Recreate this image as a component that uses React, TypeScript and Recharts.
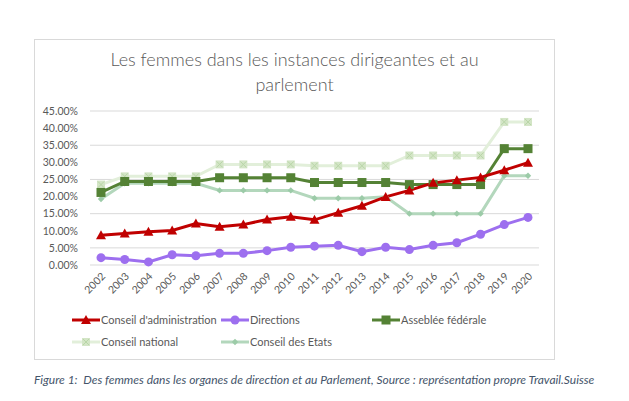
import React from 'react';
import { LineChart, Line, XAxis, YAxis, CartesianGrid } from 'recharts';

const years = ['2002','2003','2004','2005','2006','2007','2008','2009','2010','2011','2012','2013','2014','2015','2016','2017','2018','2019','2020'];
const conseilAdmin = [8.7, 9.2, 9.75, 10.1, 12.1, 11.2, 11.8, 13.3, 14.1, 13.2, 15.3, 17.3, 19.9, 21.8, 24.0, 24.8, 25.6, 27.7, 29.9];
const directions = [2.15, 1.6, 0.9, 3.0, 2.7, 3.4, 3.4, 4.2, 5.2, 5.5, 5.75, 3.9, 5.2, 4.5, 5.75, 6.5, 9.0, 11.8, 13.9];
const assemblee = [21.2, 24.4, 24.4, 24.4, 24.4, 25.5, 25.5, 25.5, 25.5, 24.1, 24.1, 24.1, 24.1, 23.5, 23.5, 23.5, 23.5, 34.0, 34.0];
const conseilNational = [23.5, 25.9, 25.9, 25.9, 25.9, 29.4, 29.4, 29.4, 29.4, 29.0, 29.0, 29.0, 29.0, 32.0, 32.0, 32.0, 32.0, 41.8, 41.8];
const conseilEtats = [19.3, 23.9, 23.9, 23.9, 23.9, 21.8, 21.8, 21.8, 21.8, 19.5, 19.5, 19.5, 19.9, 15.0, 15.0, 15.0, 15.0, 26.1, 26.1];
const yTicks = [0, 5, 10, 15, 20, 25, 30, 35, 40, 45];

const data = years.map((y, i) => ({
  year: y,
  ca: conseilAdmin[i],
  dir: directions[i],
  af: assemblee[i],
  cn: conseilNational[i],
  ce: conseilEtats[i],
}));

const C_RED = '#C00000';
const C_PURPLE = '#9D6FEF';
const C_AF = '#548235';
const C_CN = '#E2EFDA';
const C_CN_M = '#D3E5C6';
const C_CE = '#B3D7BC';
const C_CE_M = '#9CCBA8';
const TEXT = '#595959';
const FONT = 'Lato, "Open Sans", sans-serif';

const Triangle = ({ cx, cy, color, s = 5 }: any) => (
  <polygon points={`${cx},${cy - s} ${cx + s},${cy + s * 0.8} ${cx - s},${cy + s * 0.8}`} fill={color} />
);
const Circle = ({ cx, cy, color, r = 4.5 }: any) => <circle cx={cx} cy={cy} r={r} fill={color} />;
const Square = ({ cx, cy, color, s = 4.5 }: any) => <rect x={cx - s} y={cy - s} width={s * 2} height={s * 2} fill={color} />;
const XSquare = ({ cx, cy, s = 4 }: any) => (
  <g>
    <rect x={cx - s} y={cy - s} width={s * 2} height={s * 2} fill={C_CN_M} />
    <line x1={cx - s + 1} y1={cy - s + 1} x2={cx + s - 1} y2={cy + s - 1} stroke="#B9D6A8" strokeWidth={1} />
    <line x1={cx + s - 1} y1={cy - s + 1} x2={cx - s + 1} y2={cy + s - 1} stroke="#B9D6A8" strokeWidth={1} />
  </g>
);
const Diamond = ({ cx, cy, color, s = 3.2 }: any) => (
  <polygon points={`${cx},${cy - s} ${cx + s},${cy} ${cx},${cy + s} ${cx - s},${cy}`} fill={color} />
);

const mkDot = (kind: string) => (props: any) => {
  const { cx, cy, index } = props;
  const k = `${kind}-${index}`;
  if (cx == null || cy == null) return <g key={k} />;
  switch (kind) {
    case 'ca': return <Triangle key={k} cx={cx} cy={cy} color={C_RED} />;
    case 'dir': return <Circle key={k} cx={cx} cy={cy} color={C_PURPLE} />;
    case 'af': return <Square key={k} cx={cx} cy={cy} color={C_AF} />;
    case 'cn': return <XSquare key={k} cx={cx} cy={cy} />;
    default: return <Diamond key={k} cx={cx} cy={cy} color={C_CE_M} />;
  }
};

const XTick = ({ x, y, payload }: any) => {
  const px = x + 5;
  const py = y + 4;
  return (
    <text x={px} y={py} transform={`rotate(-45 ${px} ${py})`} textAnchor="end" fontSize={10.5} fill={TEXT} fontFamily={FONT}>
      {payload.value}
    </text>
  );
};

const LegendIcon = ({ kind, color }: any) => (
  <svg width={28} height={12} style={{ display: 'block' }}>
    <line x1={0} y1={6} x2={28} y2={6} stroke={color} strokeWidth={3} />
    {mkDot(kind)({ cx: 14, cy: 6, index: 0 })}
  </svg>
);

const legendItems = [
  { kind: 'ca', label: "Conseil d'administration", color: C_RED, left: 72, top: 320 },
  { kind: 'dir', label: 'Directions', color: C_PURPLE, left: 221, top: 320 },
  { kind: 'af', label: 'Asseblée fédérale', color: C_AF, left: 372, top: 320 },
  { kind: 'cn', label: 'Conseil national', color: C_CN, left: 72, top: 342 },
  { kind: 'ce', label: 'Conseil des Etats', color: C_CE, left: 221, top: 342 },
];

export default function App() {
  return (
    <div style={{ position: 'absolute', left: 0, top: 0, width: 629, height: 401, background: '#fff', fontFamily: FONT }}>
      <div style={{ position: 'absolute', left: 34, top: 39, width: 521, height: 321, boxSizing: 'border-box', border: '1px solid #D9D9D9' }} />
      <div style={{ position: 'absolute', left: 34, top: 47, width: 521, textAlign: 'center', fontSize: 18, fontWeight: 300, lineHeight: '25px', color: TEXT }}>
        Les femmes dans les instances dirigeantes et au<br />parlement
      </div>
      <div style={{ position: 'absolute', left: 0, top: 0 }}>
        <LineChart width={629} height={401} data={data} margin={{ top: 111, right: 90, left: 30, bottom: 106 }}>
          <CartesianGrid vertical={false} stroke="#D9D9D9" />
          <XAxis dataKey="year" axisLine={false} tickLine={false} interval={0} height={30} padding={{ left: 11, right: 11 }} tick={<XTick />} />
          <YAxis
            width={60}
            domain={[0, 45]}
            ticks={yTicks}
            axisLine={false}
            tickLine={false}
            tickMargin={6}
            tickFormatter={(v: number) => `${v.toFixed(2)}%`}
            tick={{ fontSize: 10.5, fill: TEXT, fontFamily: FONT }}
          />
          <Line dataKey="cn" stroke={C_CN} strokeWidth={3} dot={mkDot('cn')} isAnimationActive={false} />
          <Line dataKey="ce" stroke={C_CE} strokeWidth={3} dot={mkDot('ce')} isAnimationActive={false} />
          <Line dataKey="af" stroke={C_AF} strokeWidth={3} dot={mkDot('af')} isAnimationActive={false} />
          <Line dataKey="dir" stroke={C_PURPLE} strokeWidth={3} dot={mkDot('dir')} isAnimationActive={false} />
          <Line dataKey="ca" stroke={C_RED} strokeWidth={3} dot={mkDot('ca')} isAnimationActive={false} />
        </LineChart>
      </div>
      {legendItems.map((it) => (
        <div key={it.kind} style={{ position: 'absolute', left: it.left, top: it.top - 7, height: 14, display: 'flex', alignItems: 'center', whiteSpace: 'nowrap' }}>
          <LegendIcon kind={it.kind} color={it.color} />
          <span style={{ marginLeft: 1, fontSize: 11, color: TEXT, lineHeight: '14px' }}>{it.label}</span>
        </div>
      ))}
      <div style={{ position: 'absolute', left: 34, top: 373, fontSize: 12, fontStyle: 'italic', color: '#44546A', whiteSpace: 'nowrap', lineHeight: '14px' }}>
        Figure 1:&nbsp; Des femmes dans les organes de direction et au Parlement, Source : représentation propre Travail.Suisse
      </div>
    </div>
  );
}
